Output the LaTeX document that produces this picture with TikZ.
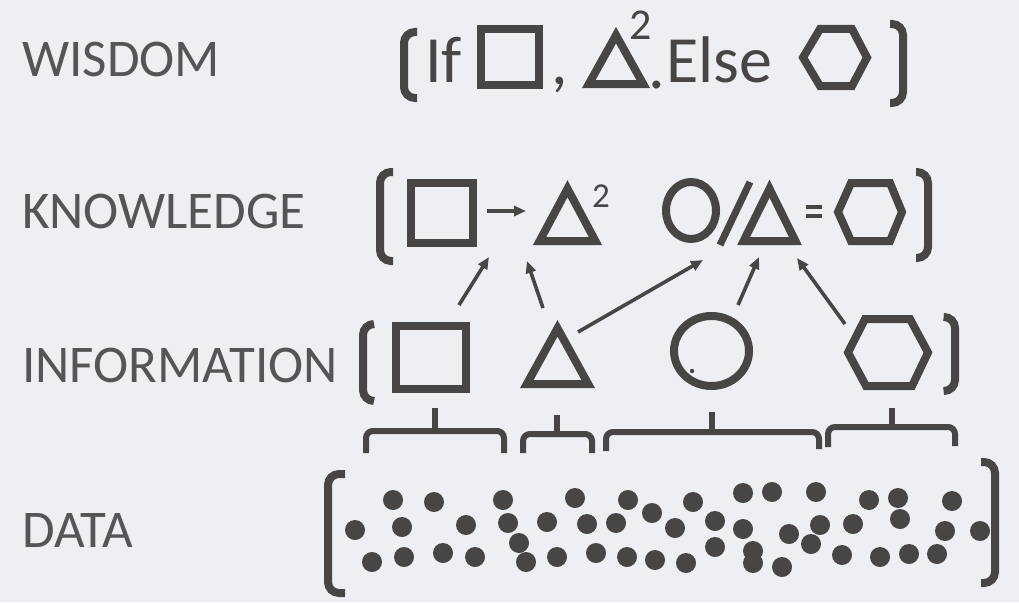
\documentclass[tikz,border=0pt]{standalone}
\usepackage{fontspec}
\setmainfont{Carlito}
\usetikzlibrary{arrows.meta}
\definecolor{bg}{RGB}{237,239,243}
\definecolor{ink}{RGB}{72,70,68}
\definecolor{lab}{RGB}{85,85,88}
\begin{document}
\begin{tikzpicture}[x=1pt,y=-1pt,
  shp/.style={draw=ink, line width=8pt, line join=miter},
  brk/.style={draw=ink, line width=8pt, rounded corners=11pt},
  brace/.style={draw=ink, line width=6pt, rounded corners=7pt},
  tick/.style={draw=ink, line width=6pt},
  arr/.style={draw=ink, line width=3.6pt, -{Triangle[length=12pt,width=10pt]}},
  dot/.style={fill=ink, circle, inner sep=0pt, minimum size=20pt},
  lbl/.style={text=lab, font=\fontsize{53}{60}\selectfont, inner sep=0pt, anchor=base west},
  ftx/.style={text=ink, font=\fontsize{66}{72}\selectfont, inner sep=0pt, anchor=base west},
  sup/.style={text=ink, inner sep=0pt, anchor=base west}]
\useasboundingbox (0,0) rectangle (1019,602);
\fill[bg] (0,0) rectangle (1019,602);

% ---------- labels ----------
\node[lbl] (wisdom) at (22,76) {WISDOM};
\node[lbl] (knowledge) at (22,228) {KNOWLEDGE};
\node[lbl] (information) at (22,382) {INFORMATION};
\node[lbl] (data) at (22,547) {DATA};

% ---------- WISDOM ----------
\draw[brk] (417,32) -- (404,32) -- (404,98) -- (417,98);
\node[ftx] (wif) at (425,82) {If};
\draw[shp] (481,29) rectangle (539,85);
\node[ftx] (wcomma) at (551,84) {,};
\draw[shp] (588.8,84) -- (643.2,84) -- (616,35.2) -- cycle;
\node[sup, font=\fontsize{44}{50}\selectfont] (wsq) at (629,40) {2};
\node[ftx] (wdot) at (648,88) {.};
\node[ftx] (welse) at (666,82) {Else};
\draw[shp] (803,57.5) -- (820,29) -- (852,29) -- (867,57.5) -- (852,86) -- (820,86) -- cycle;
\draw[brk] (890,24) -- (903,24) -- (903,103) -- (890,103);

% ---------- KNOWLEDGE ----------
\draw[brk] (393,172) -- (380,172) -- (380,261) -- (393,261);
\draw[shp] (411,183) rectangle (473,243);
\coordinate (ksqR) at (487,211);
\coordinate (ktriL) at (526,211);
\draw[arr] (ksqR) -- (ktriL);
\draw[shp] (539.6,241) -- (595.4,241) -- (567.5,188.7) -- cycle;
\node[sup, font=\fontsize{35}{40}\selectfont] (ksq2) at (592,207) {2};
\draw[shp] (691,210.5) ellipse [x radius=25, y radius=28.5];
\draw[draw=ink, line width=7pt] (750,182) -- (720,245);
\draw[shp] (743.6,241) -- (795.4,241) -- (769.5,188.7) -- cycle;
\draw[draw=ink, line width=4pt] (806,207) -- (822,207) (806,215.5) -- (822,215.5);
\draw[shp] (838,212) -- (851,183) -- (890,183) -- (902,212) -- (890,241) -- (851,241) -- cycle;
\draw[brk] (916,172) -- (928,172) -- (928,258) -- (916,258);

% ---------- INFORMATION ----------
\draw[brk] (374,324) -- (363,324) -- (363,401) -- (374,401);
\draw[shp] (396,326) rectangle (466,389);
\draw[shp] (526.8,384) -- (588.2,384) -- (557.5,328.3) -- cycle;
\draw[shp] (711.5,351) ellipse [x radius=37.5, y radius=35];
\fill[ink] (692,371) circle (2.2);
\draw[shp] (848,352.5) -- (865,319) -- (910,319) -- (928,352.5) -- (912,386) -- (866,386) -- cycle;
\draw[brk] (945,317) -- (955,317) -- (955,391) -- (945,391);

% ---------- arrows info -> knowledge ----------
\coordinate (isqT) at (459,305);   \coordinate (ksqB) at (489,257);
\coordinate (itriT) at (543,308);  \coordinate (ktriB) at (527,261);
\coordinate (itriR) at (578,332);  \coordinate (kcirB) at (703,260);
\coordinate (icirT) at (738,305);  \coordinate (ktriiB) at (759,257);
\coordinate (ihexT) at (845,324);  \coordinate (ktriiR) at (797,258);
\draw[arr] (isqT) -- (ksqB);
\draw[arr] (itriT) -- (ktriB);
\draw[arr] (itriR) -- (kcirB);
\draw[arr] (icirT) -- (ktriiB);
\draw[arr] (ihexT) -- (ktriiR);

% ---------- braces ----------
\draw[brace] (366,453) -- (366,431) -- (504,431) -- (504,453);
\draw[tick] (435,431) -- (435,408);
\draw[brace] (523,453) -- (523,434) -- (592,434) -- (592,453);
\draw[tick] (557,434) -- (557,415);
\draw[brace] (606,451) -- (606,432) -- (819,432) -- (819,449);
\draw[tick] (712,432) -- (712,412);
\draw[brace] (828,447) -- (828,427) -- (955,427) -- (955,446);
\draw[tick] (892,427) -- (892,408);

% ---------- DATA ----------
\draw[brk] (345,474) -- (328,474) -- (328,593) -- (345,593);
\draw[brk] (981,462) -- (995,462) -- (995,583) -- (981,583);
\foreach \p [count=\i] in {(355,530),(393,500),(434,502),(402,527),(466,525),(372,562),(404,557),(443,553),(475,557),
  (503,500),(508,523),(519,543),(526,562),(547,522),(557,557),(575,498),(587,524),(596,553),
  (628,500),(616,523),(627,557),(652,513),(655,560),(675,528),(686,563),(693,502),
  (715,521),(715,547),(743,493),(772,492),(743,529),(753,551),(753,563),(789,534),(782,567),
  (816,492),(820,525),(811,544),(842,555),(853,524),(869,500),(898,498),(900,519),(880,557),(909,554),(937,554),(952,501),(945,531),(980,531)}
  \node[dot] (d\i) at \p {};
\end{tikzpicture}
\end{document}
